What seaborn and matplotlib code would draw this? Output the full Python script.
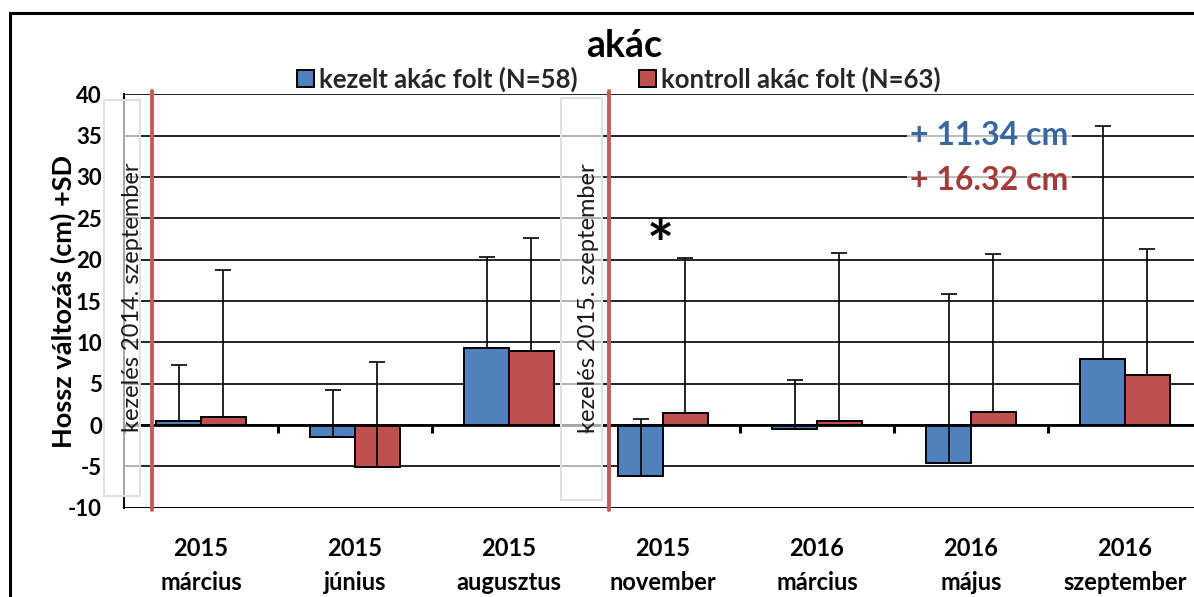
import numpy as np
import pandas as pd
import matplotlib
matplotlib.use("Agg")
import matplotlib.pyplot as plt
from matplotlib.patches import Rectangle
import seaborn as sns

# ---- data -------------------------------------------------------------
periods = ["2015\nmárcius", "2015\njúnius", "2015\naugusztus", "2015\nnovember",
           "2016\nmárcius", "2016\nmájus", "2016\nszeptember"]
groups = ["kezelt akác folt (N=58)", "kontroll akác folt (N=63)"]
kezelt_mean = [0.5, -1.5, 9.3, -6.2, -0.5, -4.6, 8.0]
kezelt_sd = [6.7, 5.7, 11.0, 6.9, 6.0, 20.4, 28.2]
kontroll_mean = [1.0, -5.1, 9.0, 1.5, 0.5, 1.6, 6.0]
kontroll_sd = [17.7, 12.7, 13.6, 18.7, 20.3, 19.1, 15.3]
y_ticks = [-10, -5, 0, 5, 10, 15, 20, 25, 30, 35, 40]
treatments = ["kezelés 2014. szeptember", "kezelés 2015. szeptember"]
treatment_x = [-0.318, 2.651]
gain_labels = ["+ 11.34 cm", "+ 16.32 cm"]

df = pd.DataFrame({
    "idoszak": periods * 2,
    "csoport": [groups[0]] * len(periods) + [groups[1]] * len(periods),
    "valtozas": kezelt_mean + kontroll_mean,
})
sds = [kezelt_sd, kontroll_sd]
means = [kezelt_mean, kontroll_mean]

BLUE = "#4F81BD"
RED = "#C0504D"
FONT = ["Lato", "DejaVu Sans"]

sns.set_theme(style="white")
plt.rcParams["font.family"] = FONT

W, H = 1194, 597
fig = plt.figure(figsize=(W / 100, H / 100), dpi=100)
ax = fig.add_axes([124 / W, (H - 507.7) / H, 1078 / W, (507.7 - 94.3) / H])

sns.barplot(data=df, x="idoszak", y="valtozas", hue="csoport",
            order=periods, hue_order=groups, palette=[BLUE, RED],
            width=0.58, errorbar=None, edgecolor="black", linewidth=1.4,
            saturation=1, ax=ax, zorder=3)

# +SD error bars, drawn from each bar's end
for cont, m, s in zip(ax.containers, means, sds):
    xs = [b.get_x() + b.get_width() / 2 for b in cont]
    ax.errorbar(xs, m, yerr=[np.zeros(len(s)), s], fmt="none",
                ecolor="black", elinewidth=1.2, capsize=6, capthick=1.2,
                zorder=4)

handles, labels = ax.get_legend_handles_labels()
ax.get_legend().remove()

ax.set_xlim(-0.5, 6.5)
ax.set_ylim(-10, 40)
ax.set_yticks(y_ticks)
ax.set_yticklabels([str(t) for t in y_ticks], fontsize=16, fontweight="bold")
ax.set_xticks(range(len(periods)))
ax.set_xticklabels(periods, fontsize=17, fontweight="bold", linespacing=1.6)
ax.tick_params(axis="x", length=0, pad=21, colors="black")
ax.tick_params(axis="y", direction="out", length=6, width=1.4, colors="black", pad=10)
ax.set_xlabel("")
ax.set_ylabel("Hossz változás (cm) +SD", fontsize=19.5, fontweight="bold",
              color="black", labelpad=-6)

ax.set_axisbelow(True)
ax.yaxis.grid(True, color="black", linewidth=1.2)
for side in ["top", "right", "bottom"]:
    ax.spines[side].set_visible(False)
ax.spines["left"].set_color("black")
ax.spines["left"].set_linewidth(1.4)
ax.axhline(-10, color="black", linewidth=1.4, zorder=2)

# category axis at zero with boundary ticks
ax.axhline(0, color="black", linewidth=2.0, zorder=5)
ax.vlines(np.arange(-0.5, len(periods), 1.0), -1.0, 0, color="black",
          linewidth=2.2, zorder=5)

# treatment date boxes and markers
box_x = [(-0.63, -0.396), (2.336, 2.602)]
box_y = [(-8.6, 39.3), (-9.07, 39.6)]
text_x = [-0.448, 2.513]
for (x0, x1), (y0, y1), tx, lab in zip(box_x, box_y, text_x, treatments):
    ax.add_patch(Rectangle((x0, y0), x1 - x0, y1 - y0, facecolor=(1, 1, 1, 0.65),
                           edgecolor="#e0e0e0", linewidth=1.4, zorder=6,
                           clip_on=False))
    ax.text(tx, 15.4, lab, rotation=90, ha="center", va="center",
            fontsize=17, color="#1a1a1a", zorder=7)
for xv in treatment_x:
    ax.axvline(xv, ymin=-0.005, ymax=1.007, color="#C55A5A", linewidth=2.8,
               zorder=8, clip_on=False)

# significance mark and growth labels
ax.text(2.98, 21.4, "*", ha="center", va="center", fontsize=46,
        fontweight="bold", color="black", zorder=7)
ax.text(5.12, 35.06, gain_labels[0], ha="center", va="center", fontsize=23,
        fontweight="bold", color="#3A67A0", zorder=7,
        bbox=dict(boxstyle="square,pad=0.12", fc=(1, 1, 1, 0.7), ec="none"))
ax.text(5.12, 29.6, gain_labels[1], ha="center", va="center", fontsize=23,
        fontweight="bold", color="#A33B39", zorder=7,
        bbox=dict(boxstyle="square,pad=0.12", fc=(1, 1, 1, 0.7), ec="none"))

fig.text(624 / W, 1 - 46 / H, "akác", ha="center", va="center", fontsize=27,
         fontweight="bold", color="black")

for h in handles:
    h.set_edgecolor("black")
    h.set_linewidth(1.4)
fig.legend(handles, labels, loc="center", bbox_to_anchor=(619 / W, 1 - 79 / H),
           ncol=2, frameon=False, handlelength=0.65, handleheight=0.65,
           handletextpad=0.2, columnspacing=2.4,
           prop=dict(family=FONT, weight="bold", size=18.5))

# chart frame
fig.patches.append(Rectangle((10 / W, -0.1), 1.2, (H - 13) / H + 0.1,
                             transform=fig.transFigure, fill=False,
                             edgecolor="black", linewidth=2.2))

fig.savefig("out.png", dpi=100)
